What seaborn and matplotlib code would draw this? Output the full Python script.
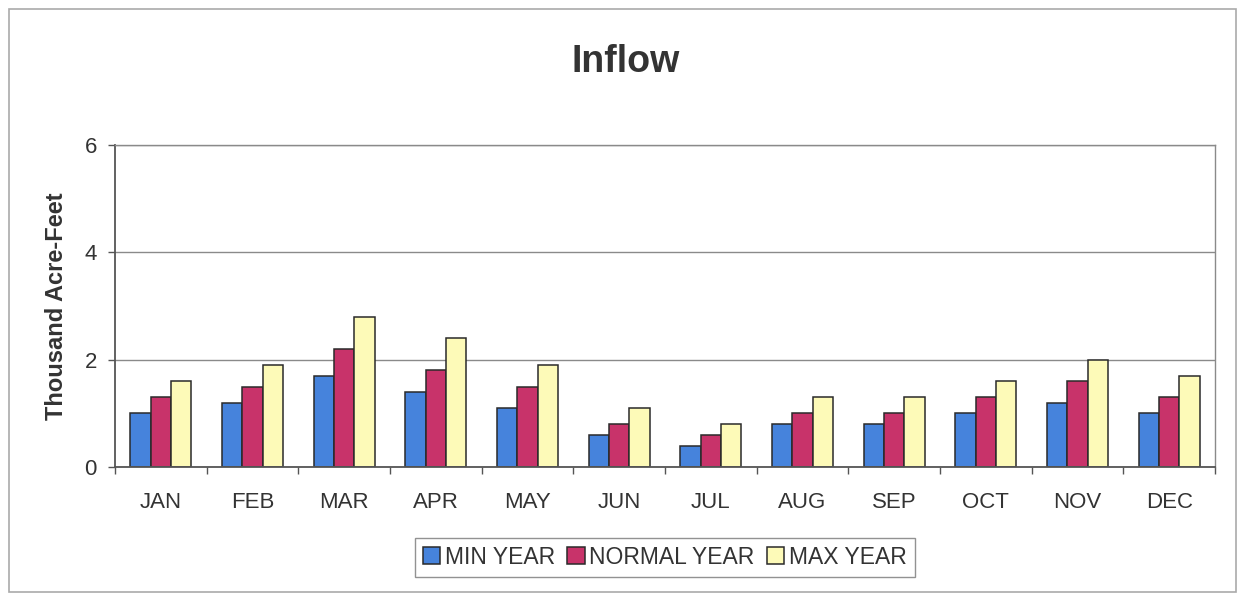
import matplotlib
matplotlib.use("Agg")
import matplotlib.pyplot as plt
from matplotlib.patches import Rectangle
from matplotlib.ticker import MultipleLocator, FixedLocator
import pandas as pd
import seaborn as sns

# values (thousand acre-feet)
months = ["JAN", "FEB", "MAR", "APR", "MAY", "JUN",
          "JUL", "AUG", "SEP", "OCT", "NOV", "DEC"]
min_year = [1.0, 1.2, 1.7, 1.4, 1.1, 0.6, 0.4, 0.8, 0.8, 1.0, 1.2, 1.0]
normal_year = [1.3, 1.5, 2.2, 1.8, 1.5, 0.8, 0.6, 1.0, 1.0, 1.3, 1.6, 1.3]
max_year = [1.6, 1.9, 2.8, 2.4, 1.9, 1.1, 0.8, 1.3, 1.3, 1.6, 2.0, 1.7]
series_names = ["MIN YEAR", "NORMAL YEAR", "MAX YEAR"]
colors = ["#4683dc", "#c8336a", "#fdfab8"]

df = pd.DataFrame({
    "Month": months * 3,
    "Value": min_year + normal_year + max_year,
    "Series": [s for s in series_names for _ in months],
})

sns.set_style("white")
plt.rcParams["font.family"] = ["Liberation Sans", "DejaVu Sans"]

fig = plt.figure(figsize=(12.38, 5.94), dpi=100)
ax = fig.add_axes([0.0929, 0.2138, 0.8885, 0.5421])

sns.barplot(data=df, x="Month", y="Value", hue="Series", order=months,
            hue_order=series_names, palette=colors, width=0.667,
            edgecolor="#2a2a2a", linewidth=1.1, saturation=1, ax=ax)

ax.set_ylim(0, 6)
ax.set_xlim(-0.5, len(months) - 0.5)
ax.yaxis.set_major_locator(MultipleLocator(2))
ax.grid(axis="y", color="#8a8a8a", linewidth=1.0)
ax.set_axisbelow(True)

# tick marks between categories, labels centred
ax.xaxis.set_minor_locator(FixedLocator([i - 0.5 for i in range(len(months) + 1)]))
ax.tick_params(axis="x", which="major", length=0, pad=18, labelsize=16, labelcolor="#333333")
ax.tick_params(axis="x", which="minor", length=5, width=1, color="#555555", direction="out", bottom=True)
ax.tick_params(axis="y", length=5, width=1, color="#555555", direction="out", left=True,
               pad=8, labelsize=16, labelcolor="#333333")

for side in ["left", "bottom"]:
    ax.spines[side].set_color("#555555")
    ax.spines[side].set_linewidth(1.3)
for side in ["top", "right"]:
    ax.spines[side].set_visible(True)
    ax.spines[side].set_color("#8a8a8a")
    ax.spines[side].set_linewidth(1.0)

ax.set_xlabel("")
ax.set_ylabel("Thousand Acre-Feet", fontsize=17, fontweight="bold", color="#333333", labelpad=12)

fig.text(0.505, 0.896, "Inflow", ha="center", va="center",
         fontsize=27, fontweight="bold", color="#333333")

handles, labels = ax.get_legend_handles_labels()
ax.get_legend().remove()
leg = fig.legend(handles, labels, loc="center", bbox_to_anchor=(0.537, 0.062), ncol=3,
                 fontsize=16.5, frameon=True, fancybox=False, handlelength=0.75,
                 handleheight=0.75, handletextpad=0.2, columnspacing=0.55,
                 borderpad=0.35, labelcolor="#333333")
leg.get_frame().set_edgecolor("#777777")
leg.get_frame().set_linewidth(1.0)

# outer chart border
fig.patches.append(Rectangle((0.0073, 0.0034), 0.991, 0.9814, transform=fig.transFigure,
                             fill=False, edgecolor="#aaaaaa", linewidth=1.2))

fig.savefig("out.png", dpi=100)
